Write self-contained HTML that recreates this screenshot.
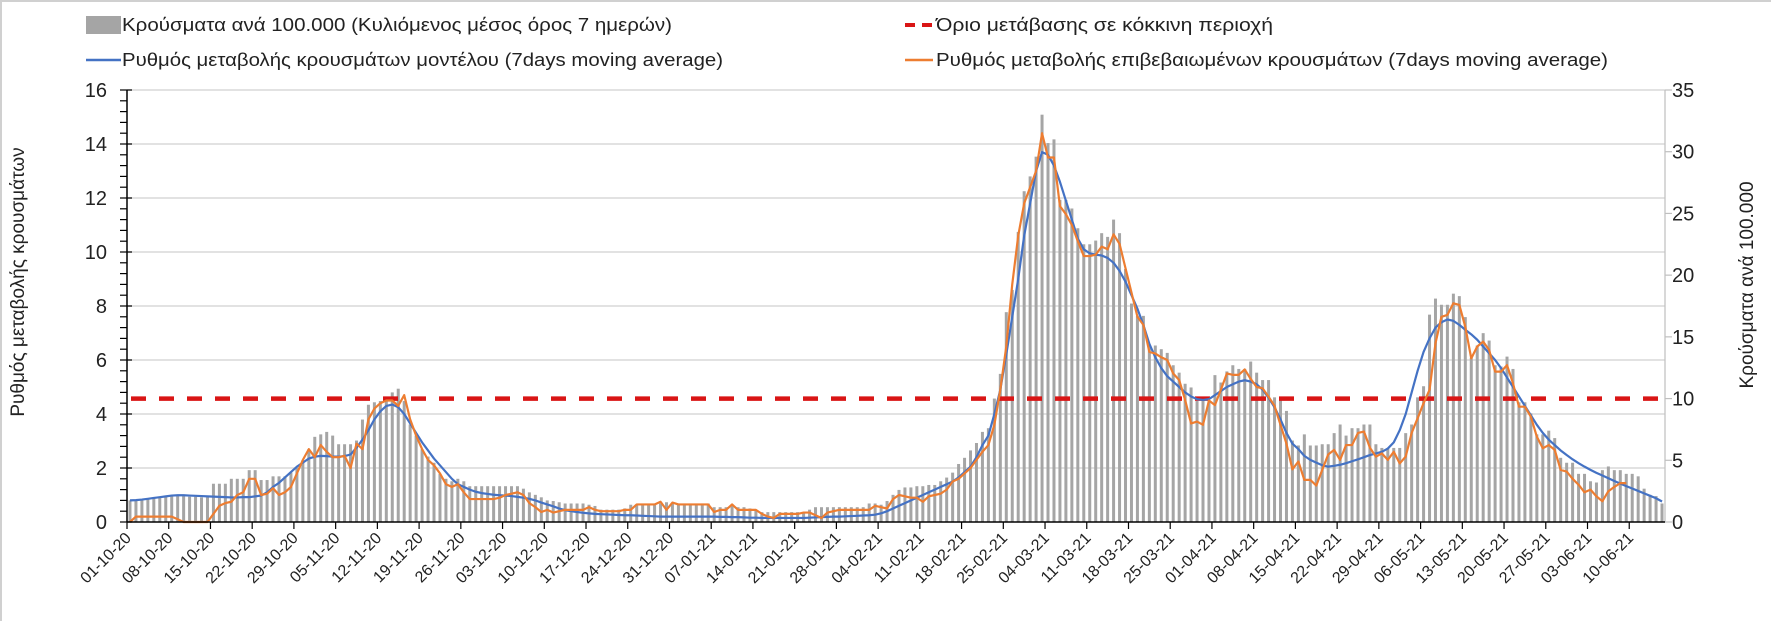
<!DOCTYPE html>
<html><head><meta charset="utf-8">
<style>
html,body{margin:0;padding:0;background:#fff;}
#wrap{position:relative;width:1771px;height:621px;overflow:hidden;box-sizing:border-box;border-top:2px solid #d0d0d0;border-left:2px solid #d0d0d0;}
svg text{font-family:"Liberation Sans","DejaVu Sans",sans-serif;fill:#222;}
</style></head>
<body>
<div id="wrap">
<svg id="chart" width="1771" height="621" viewBox="0 0 1771 621" style="position:absolute;left:-2px;top:-2px">
  <g>
    <g>
      <rect x="86" y="16" width="35" height="18" fill="#a5a5a5"></rect>
      <text x="122" y="31" font-size="18" textLength="550" lengthAdjust="spacingAndGlyphs">Κρούσματα ανά 100.000 (Κυλιόμενος μέσος όρος 7 ημερών)</text>
    </g>
    <g>
      <line x1="86" y1="60" x2="121" y2="60" stroke="#4472c4" stroke-width="2.5"></line>
      <text x="122" y="66" font-size="18" textLength="601" lengthAdjust="spacingAndGlyphs">Ρυθμός μεταβολής κρουσμάτων μοντέλου (7days moving average)</text>
    </g>
    <g>
      <line x1="905" y1="25" x2="933" y2="25" stroke="#d91515" stroke-width="4" stroke-dasharray="10,7"></line>
      <text x="936" y="31" font-size="18" textLength="337" lengthAdjust="spacingAndGlyphs">Όριο μετάβασης σε κόκκινη περιοχή</text>
    </g>
    <g>
      <line x1="905" y1="60" x2="933" y2="60" stroke="#ed7d31" stroke-width="2.5"></line>
      <text x="936" y="66" font-size="18" textLength="672" lengthAdjust="spacingAndGlyphs">Ρυθμός μεταβολής επιβεβαιωμένων κρουσμάτων (7days moving average)</text>
    </g>
  </g>
  <text transform="translate(24,282) rotate(-90)" text-anchor="middle" font-size="19">Ρυθμός μεταβολής κρουσμάτων</text>
  <text transform="translate(1753,285) rotate(-90)" text-anchor="middle" font-size="19">Κρούσματα ανά 100.000</text>
  <g id="grid"></g>
  <g id="bars"></g>
  <g id="lines"></g>
  <g id="axes"></g>
</svg>
</div>
<script>
const startDate = [2020, 10, 1];
const caseBars = [
1.75,1.8,1.85,1.9,1.95,2.0,2.05,
2.1,2.1,2.1,2.05,2.05,2.0,2.0,
3.1,3.1,3.1,3.5,3.5,3.5,4.2,
4.2,3.4,3.4,3.7,3.7,3.7,4.0,
4.4,5.0,5.9,6.9,7.1,7.3,7.0,
6.3,6.3,6.3,6.6,8.3,9.5,9.7,
9.8,10.1,10.5,10.8,9.8,7.9,7.0,
5.9,5.3,4.8,3.9,3.5,3.3,3.5,
3.3,2.9,2.9,2.9,2.9,2.9,2.9,
2.9,2.9,2.9,2.7,2.4,2.2,2.0,
1.75,1.7,1.6,1.5,1.5,1.5,1.5,
1.4,1.3,1.0,1.0,1.0,1.0,1.1,
1.4,1.4,1.4,1.4,1.4,1.5,1.6,
1.5,1.5,1.5,1.5,1.5,1.5,1.5,
1.2,1.2,1.2,1.3,1.2,1.2,1.1,
1.0,0.8,0.8,0.8,0.8,0.8,0.8,
0.8,0.8,1.0,1.2,1.2,1.2,1.2,
1.2,1.2,1.2,1.2,1.2,1.5,1.5,
1.4,1.7,2.2,2.6,2.8,2.8,2.9,
2.9,3.0,3.0,3.3,3.6,4.0,4.7,
5.2,5.8,6.4,7.3,7.6,10.0,12.0,
17.0,18.8,23.5,26.8,28.0,29.6,33.0,
30.7,31.0,26.1,26.1,25.4,23.8,22.5,
22.5,22.8,23.4,23.1,24.5,23.4,20.5,
17.7,16.7,16.7,14.3,14.3,14.0,13.7,
12.7,12.1,11.2,10.9,9.8,10.0,9.8,
11.9,11.3,12.2,12.7,12.4,12.4,13.0,
12.1,11.5,11.5,10.1,10.1,9.0,6.6,
6.2,7.1,6.2,6.2,6.3,6.3,7.2,
7.9,7.0,7.6,7.6,7.9,7.9,6.3,
6.0,6.0,6.0,6.0,7.2,7.9,10.1,
11.0,16.8,18.1,17.6,17.6,18.5,18.3,
16.6,13.3,14.3,15.3,14.7,12.7,12.6,
13.4,12.4,9.7,9.7,8.8,7.1,7.1,
7.4,6.8,5.2,4.8,4.8,3.9,3.9,
3.3,3.2,4.2,4.5,4.2,4.2,3.9,
3.9,3.7,2.7,2.2,2.1,1.5
];
const modelRate = [
0.80,0.81,0.83,0.86,0.89,0.92,0.95,
0.98,0.99,0.99,0.98,0.97,0.96,0.95,
0.94,0.93,0.92,0.91,0.91,0.92,0.92,
0.95,0.98,1.1,1.3,1.45,1.65,1.85,
2.05,2.2,2.35,2.42,2.45,2.44,2.42,
2.42,2.44,2.5,2.75,3.05,3.4,3.8,
4.1,4.3,4.35,4.25,4.0,3.65,3.3,
2.95,2.65,2.35,2.1,1.85,1.6,1.4,
1.3,1.2,1.12,1.07,1.04,1.01,0.99,
0.98,0.96,0.93,0.9,0.86,0.8,0.72,
0.65,0.58,0.5,0.44,0.4,0.37,0.34,
0.32,0.3,0.29,0.28,0.27,0.26,0.25,
0.25,0.24,0.23,0.22,0.21,0.2,0.2,
0.2,0.2,0.2,0.2,0.2,0.2,0.2,
0.2,0.19,0.19,0.18,0.18,0.17,0.16,
0.16,0.15,0.15,0.15,0.15,0.15,0.15,
0.15,0.15,0.16,0.17,0.18,0.19,0.2,
0.2,0.21,0.22,0.23,0.24,0.25,0.27,
0.32,0.4,0.5,0.6,0.7,0.8,0.9,
1.0,1.1,1.2,1.3,1.4,1.5,1.65,
1.85,2.05,2.4,2.85,3.2,4.0,4.9,
6.2,7.6,9.0,10.6,11.8,13.0,13.7,
13.6,13.2,12.6,11.9,11.2,10.5,10.1,
9.95,9.9,9.87,9.78,9.6,9.3,8.9,
8.4,7.9,7.3,6.6,6.1,5.7,5.4,
5.2,5.0,4.8,4.65,4.55,4.52,4.55,
4.7,4.85,5.0,5.1,5.2,5.25,5.2,
5.1,4.9,4.6,4.25,3.8,3.3,2.9,
2.7,2.45,2.3,2.2,2.1,2.05,2.08,
2.12,2.18,2.25,2.32,2.4,2.48,2.54,
2.6,2.72,2.95,3.4,4.0,4.8,5.6,
6.3,6.8,7.2,7.4,7.5,7.45,7.3,
7.12,6.95,6.75,6.5,6.25,6.0,5.7,
5.35,5.0,4.65,4.3,3.95,3.6,3.3,
3.05,2.85,2.65,2.48,2.32,2.18,2.05,
1.93,1.82,1.72,1.62,1.52,1.42,1.33,
1.24,1.15,1.06,0.97,0.88,0.76
];
const confirmedRate = [
0,0.2,0.2,0.2,0.2,0.2,0.2,
0.2,0.1,0,0,0,0,0,
0.3,0.6,0.7,0.75,1.0,1.1,1.6,
1.6,1.0,1.05,1.25,1.0,1.1,1.3,
1.8,2.3,2.7,2.4,2.85,2.6,2.4,
2.4,2.45,2.0,2.9,2.7,3.8,4.2,
4.4,4.5,4.5,4.3,4.7,3.8,3.2,
2.7,2.3,2.1,1.8,1.4,1.3,1.4,
1.1,0.85,0.85,0.85,0.85,0.85,0.9,
1.0,1.05,1.1,1.0,0.7,0.55,0.37,
0.45,0.35,0.4,0.45,0.45,0.45,0.45,
0.55,0.45,0.4,0.4,0.4,0.4,0.45,
0.45,0.65,0.65,0.65,0.65,0.75,0.45,
0.72,0.65,0.65,0.65,0.65,0.65,0.65,
0.37,0.45,0.45,0.65,0.45,0.45,0.45,
0.45,0.3,0.2,0.15,0.3,0.3,0.3,
0.3,0.35,0.35,0.25,0.15,0.35,0.4,
0.45,0.45,0.45,0.45,0.45,0.45,0.6,
0.55,0.5,0.85,1.0,0.95,0.9,0.9,
0.75,0.95,1.0,1.05,1.2,1.5,1.6,
1.8,2.0,2.3,2.6,2.85,3.6,4.9,
6.5,8.8,10.6,11.8,12.4,13.0,14.4,
13.5,13.5,11.7,11.4,11.0,10.4,9.85,
9.85,9.9,10.2,10.1,10.65,10.3,9.4,
8.5,7.6,7.3,6.3,6.24,6.1,6.0,
5.5,5.26,4.52,3.65,3.72,3.6,4.5,
4.33,4.9,5.5,5.45,5.45,5.65,5.3,
5.0,4.95,4.64,4.3,3.6,2.9,1.95,
2.24,1.56,1.56,1.35,1.93,2.5,2.67,
2.3,2.85,2.85,3.3,3.35,2.75,2.42,
2.54,2.3,2.6,2.17,2.42,3.3,3.84,
4.4,4.89,6.62,7.6,7.67,8.1,8.04,
7.23,6.06,6.5,6.68,6.37,5.57,5.57,
5.81,5.14,4.27,4.27,3.9,3.16,2.73,
2.85,2.67,1.93,1.87,1.6,1.38,1.1,
1.2,0.95,0.77,1.14,1.3,1.44,1.44
];
const redThreshold = 10;
const leftTicks = [0,2,4,6,8,10,12,14,16];
const rightTicks = [0,5,10,15,20,25,30,35];

const NS = "http://www.w3.org/2000/svg";
const X0 = 127, X1 = 1665, Y0 = 522, Y1 = 90;
const nDays = caseBars.length;
const band = (X1 - X0) / nDays;
function xDay(i){ return X0 + (i + 0.5) * band; }
function xTick(i){ return X0 + i * band; }
function yL(v){ return Y0 - (v / 16) * (Y0 - Y1); }
function yR(v){ return Y0 - (v / 35) * (Y0 - Y1); }
function mk(tag, attrs, parent){
  const el = document.createElementNS(NS, tag);
  for (const k in attrs) el.setAttribute(k, attrs[k]);
  parent.appendChild(el);
  return el;
}
function pad(n){ return (n < 10 ? "0" : "") + n; }

const grid = document.getElementById("grid");
const barsG = document.getElementById("bars");
const linesG = document.getElementById("lines");
const axes = document.getElementById("axes");

leftTicks.forEach(function(t){
  if (t === 0) return;
  const g = mk("line", {x1:X0, x2:X1, y1:yL(t), y2:yL(t), stroke:"#d9d9d9", "stroke-width":1.5}, grid);
  
  
});

caseBars.forEach(function(v, i){
  const r = mk("rect", {x:xDay(i) - 1.5, y:yR(v), width:3, height:Math.max(0, Y0 - yR(v)), fill:"#a5a5a5"}, barsG);
  
  
});

const thr = mk("line", {x1:X0 + 4, x2:X1 - 4, y1:yR(redThreshold), y2:yR(redThreshold), stroke:"#d91515", "stroke-width":4.5, "stroke-dasharray":"15,13"}, linesG);



function pathFor(arr){
  return arr.map(function(v, i){ return (i ? "L" : "M") + xDay(i).toFixed(2) + "," + yL(v).toFixed(2); }).join("");
}
const blue = mk("path", {d:pathFor(modelRate), fill:"none", stroke:"#4472c4", "stroke-width":2.2, "stroke-linejoin":"round"}, linesG);


const orange = mk("path", {d:pathFor(confirmedRate), fill:"none", stroke:"#ed7d31", "stroke-width":2.2, "stroke-linejoin":"round"}, linesG);



const la = mk("line", {x1:X0, x2:X0, y1:Y1, y2:Y0, stroke:"#000", "stroke-width":1.5}, axes);


for (let k = 0; k <= 40; k++){
  const v = k * 0.4, y = yL(v);
  const major = (k % 5 === 0);
  const tk = mk("line", {x1:X0 - 7, x2:major ? X0 + 5 : X0, y1:y, y2:y, stroke:"#000", "stroke-width":1.2}, axes);
  
  
}
leftTicks.forEach(function(t){
  const tx = mk("text", {x:107, y:yL(t) + 7, "text-anchor":"end", "font-size":20}, axes);
  tx.textContent = t;
  
  
});
const ra = mk("line", {x1:X1, x2:X1, y1:Y1, y2:Y0, stroke:"#bfbfbf", "stroke-width":1.2}, axes);


rightTicks.forEach(function(t){
  const tk = mk("line", {x1:X1, x2:X1 + 7, y1:yR(t), y2:yR(t), stroke:"#bfbfbf", "stroke-width":1.2}, axes);
  
  
  const tx = mk("text", {x:1672, y:yR(t) + 7, "font-size":20}, axes);
  tx.textContent = t;
  
  
});
const xa = mk("line", {x1:X0, x2:X1, y1:Y0, y2:Y0, stroke:"#000", "stroke-width":1.5}, axes);


for (let d = 0; d < nDays; d += 7){
  const x = xTick(d);
  const tk = mk("line", {x1:x, x2:x, y1:Y0, y2:Y0 + 7, stroke:"#000", "stroke-width":1.2}, axes);
  
  
  const dt = new Date(startDate[0], startDate[1] - 1, startDate[2] + d);
  const lbl = pad(dt.getDate()) + "-" + pad(dt.getMonth() + 1) + "-" + String(dt.getFullYear()).slice(2);
  const tx = mk("text", {x:0, y:0, "text-anchor":"end", "font-size":16, transform:"translate(" + (x + 5) + "," + (Y0 + 17) + ") rotate(-45)"}, axes);
  tx.textContent = lbl;
  
  
}
</script>
</body></html>
